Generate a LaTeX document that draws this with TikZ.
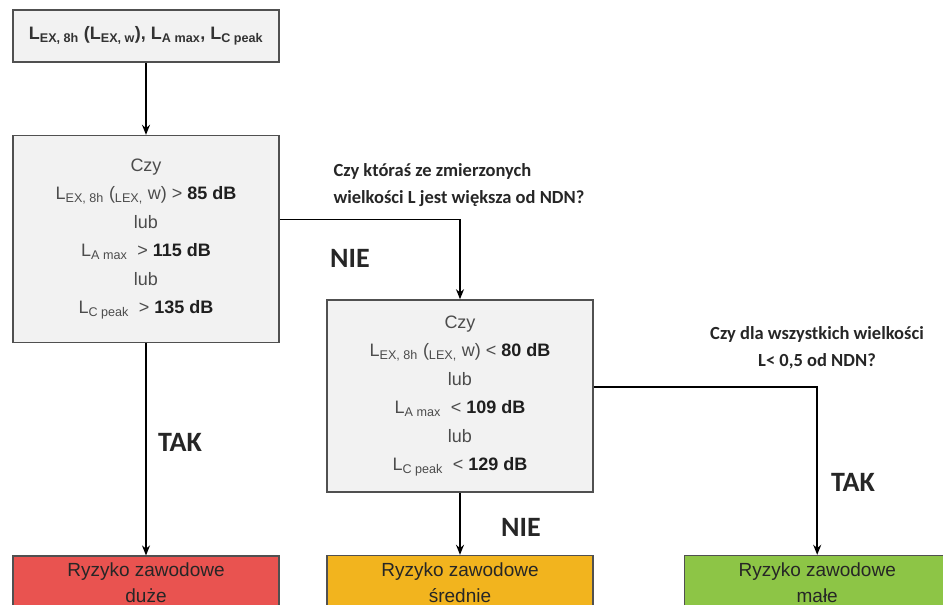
\documentclass[tikz,border=0pt]{standalone}
\usepackage{fontspec}
\setmainfont{Liberation Sans}
\newfontfamily\askfont{Carlito}
\usetikzlibrary{arrows.meta,positioning}
\definecolor{boxgray}{RGB}{242,242,242}
\definecolor{edgegray}{RGB}{80,80,80}
\definecolor{riskhigh}{RGB}{233,83,80}
\definecolor{riskmid}{RGB}{242,180,30}
\definecolor{risklow}{RGB}{141,197,70}
\newcommand{\lsub}[1]{\textsubscript{#1}}
\newcommand{\hival}[1]{\textcolor{black!88}{\bfseries #1}}

\begin{document}
\begin{tikzpicture}[x=1pt, y=-1pt,
    box/.style={draw=edgegray, line width=1.6pt, fill=boxgray,
                minimum width=266pt, align=center, text=black!70,
                font=\fontsize{18}{28.5}\selectfont},
    risk/.style={draw=edgegray, line width=1.2pt, minimum width=266pt,
                 minimum height=54pt, align=center, text=black!85,
                 font=\fontsize{19}{26}\selectfont},
    arr/.style={-{Stealth[length=10pt, width=8pt]}, line width=1.5pt},
    lbl/.style={font=\askfont\bfseries\fontsize{28}{30}\selectfont, text=black!85},
    ask/.style={font=\askfont\bfseries\fontsize{18.5}{27}\selectfont, text=black!85}
  ]
  \useasboundingbox (0,0) rectangle (943,605);
  \clip (0,0) rectangle (943,605);
  % Measured values
  \node[box, minimum height=52pt, text=black!80,
        font=\bfseries\fontsize{18}{24}\selectfont] (levels) at (146,36)
    {L\lsub{EX, 8h} (L\lsub{EX, w}), L\lsub{A max}, L\lsub{C peak}};
  % First check
  \node[box, minimum height=207pt, below=72pt of levels] (chkhigh)
    {Czy\\
     L\lsub{EX, 8h} (\lsub{LEX,} w) > \hival{85 dB}\\
     lub\\
     L\lsub{A max} \ > \hival{115 dB}\\
     lub\\
     L\lsub{C peak} \ > \hival{135 dB}};
  % Second check
  \node[box, minimum height=192pt] (chklow) at (460,396)
    {Czy\\
     L\lsub{EX, 8h} (\lsub{LEX,} w) < \hival{80 dB}\\
     lub\\
     L\lsub{A max} \ < \hival{109 dB}\\
     lub\\
     L\lsub{C peak} \ < \hival{129 dB}};
  % Risk levels
  \node[risk, fill=riskhigh, below=212pt of chkhigh] (high) {Ryzyko zawodowe\\duże};
  \node[risk, fill=riskmid, below=62pt of chklow] (mid) {Ryzyko zawodowe\\średnie};
  \node[risk, fill=risklow, right=90pt of mid] (low) {Ryzyko zawodowe\\małe};
  % Questions and answers
  \node[ask, align=left, anchor=west] (askhigh) at (330,185)
    {Czy któraś ze zmierzonych\\wielkości L jest większa od NDN?};
  \node[ask, align=center] (asklow) at (817,348)
    {Czy dla wszystkich wielkości\\L< 0,5 od NDN?};
  \node[lbl] (yeshigh) at (180,442) {TAK};
  \node[lbl] (nohigh) at (350,258) {NIE};
  \node[lbl] (nolow) at (521,527) {NIE};
  \node[lbl] (yeslow) at (853,482) {TAK};

  \draw[arr] (levels) -- (chkhigh);
  \draw[arr] ([yshift=19.5pt]chkhigh.east) -| (chklow.north);
  \draw[arr] (chkhigh) -- (high);
  \draw[arr] (chklow) -- (mid);
  \draw[arr] ([yshift=9pt]chklow.east) -| (low.north);
\end{tikzpicture}
\end{document}
